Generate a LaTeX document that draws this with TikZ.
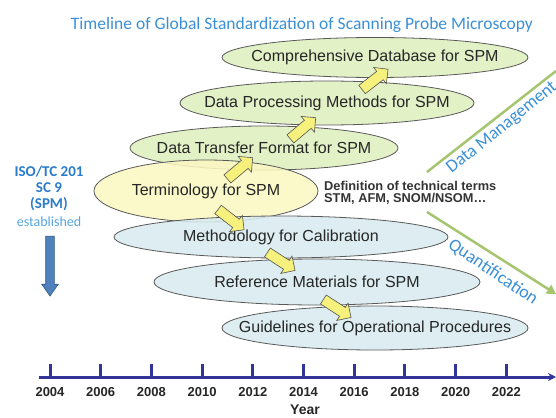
\documentclass[tikz,border=0pt]{standalone}
\usepackage{fontspec}
\setmainfont{Liberation Sans}
\newfontfamily\calfont{Carlito}
\usetikzlibrary{shapes.geometric,shapes.arrows,arrows.meta,positioning}

\definecolor{ttlblue}{HTML}{3A8FD6}
\definecolor{isoblue}{HTML}{2A7CCB}
\definecolor{estblue}{HTML}{55A5E0}
\definecolor{ellgreen}{HTML}{DFEFBF}
\definecolor{ellyellow}{HTML}{FAF7C2}
\definecolor{ellblue}{HTML}{D8EBEF}
\definecolor{argold}{HTML}{F6F07C}
\definecolor{axisnavy}{HTML}{33349A}
\definecolor{trendgreen}{HTML}{A6C570}
\definecolor{downblue}{HTML}{4F81BD}

\begin{document}
\begin{tikzpicture}[x=1pt, y=-1pt,
	ell/.style={ellipse, draw=gray!70!black, line width=0.8pt, inner sep=0pt, fill opacity=0.88,
		label={[font=\fontsize{16}{18}\selectfont, text=black!85]center:#1}},
	greenell/.style={ell=#1, fill=ellgreen},
	yellowell/.style={ell=#1, fill=ellyellow},
	blueell/.style={ell=#1, fill=ellblue},
	blockar/.style={single arrow, draw=gray!65!black, fill=argold, line width=0.6pt, inner sep=5pt,
		minimum height=33pt, single arrow head extend=5pt},
	downar/.style={single arrow, draw=downblue!70!black, fill=downblue, line width=0.6pt, inner sep=4pt,
		minimum height=60pt, single arrow head extend=4pt, single arrow tip angle=70},
	axisln/.style={axisnavy, line width=3pt},
	trendln/.style={trendgreen, line width=2.5pt},
	trendlbl/.style={font=\calfont\fontsize{18}{20}\selectfont, text=ttlblue, inner sep=0pt},
	yearlbl/.style={font=\bfseries\fontsize{13}{15}\selectfont, text=black!85, inner sep=0pt}]
	\useasboundingbox (0,0) rectangle (556,417);

	% title
	\node[font=\calfont\fontsize{17.5}{20}\selectfont, text=ttlblue] (title) at (302,25)
		{Timeline of Global Standardization of Scanning Probe Microscopy};

	% standards
	\node[greenell={Comprehensive Database for SPM}, minimum width=306pt, minimum height=40pt] (db) at (375,57.5) {};
	\node[greenell={Data Processing Methods for SPM}, minimum width=294pt, minimum height=44pt] (proc) at (327,103) {};
	\node[greenell={Data Transfer Format for SPM}, minimum width=268pt, minimum height=44pt] (transf) at (264,148) {};
	\node[yellowell={Terminology for SPM}, minimum width=224pt, minimum height=62pt] (term) at (206,191) {};
	\node[blueell={Methodology for Calibration}, minimum width=334pt, minimum height=42pt] (calib) at (281,237) {};
	\node[blueell={Reference Materials for SPM}, minimum width=326pt, minimum height=46pt] (refmat) at (317,282) {};
	\node[blueell={Guidelines for Operational Procedures}, minimum width=306pt, minimum height=44pt] (guide) at (375,328) {};

	\node[blockar, rotate=38] (ar1) at (373,81) {};
	\node[blockar, rotate=40] (ar2) at (301,130) {};
	\node[blockar, rotate=40] (ar3) at (238,170) {};
	\node[blockar, rotate=-38] (ar4) at (229,218) {};
	\node[blockar, rotate=-33] (ar5) at (279,260) {};
	\node[blockar, rotate=-33] (ar6) at (335,307) {};

	\node[font=\bfseries\fontsize{12.8}{12.5}\selectfont, text=black!80, align=left, anchor=west, inner sep=0pt] (defn) at (324,193)
		{Definition of technical terms\\STM, AFM, SNOM/NSOM…};

	% two directions
	\coordinate (dmS) at (427,172);
	\coordinate (dmE) at (556,71);
	\coordinate (qS) at (427,212);
	\coordinate (qE) at (556,294);
	\draw[trendln] (dmS) -- (dmE);
	\draw[trendln, -{Triangle[length=9pt,width=10pt]}] (qS) -- (qE);
	\node[trendlbl, rotate=38.8] (dmlbl) at (502,128) {Data Management};
	\node[trendlbl, rotate=-34] (qlbl) at (493,272) {Quantification};

	% SC 9
	\node[font=\calfont\bfseries\fontsize{15}{16}\selectfont, text=isoblue, align=center, inner sep=0pt] (iso) at (49,188)
		{ISO/TC 201\\SC 9\\(SPM)};
	\node[font=\calfont\fontsize{14}{16}\selectfont, text=estblue, inner sep=0pt] (estab) at (49,222) {established};
	\node[downar, rotate=-90] (estar) at (50,263) {};

	% time axis
	\draw[axisln, -{Stealth[length=8pt,width=8pt]}] (39,377) -- (556,377);
	\foreach \yr [count=\i from 0] in {2004,2006,...,2022} {
		\draw[axisln] (50+50.7*\i,378) -- (50+50.7*\i,364);
		\node[yearlbl] (y\yr) at (50+50.7*\i,392) {\yr};
	}
	\node[font=\bfseries\fontsize{14}{16}\selectfont, text=black!85] (yearttl) at (305,410) {Year};
\end{tikzpicture}
\end{document}
